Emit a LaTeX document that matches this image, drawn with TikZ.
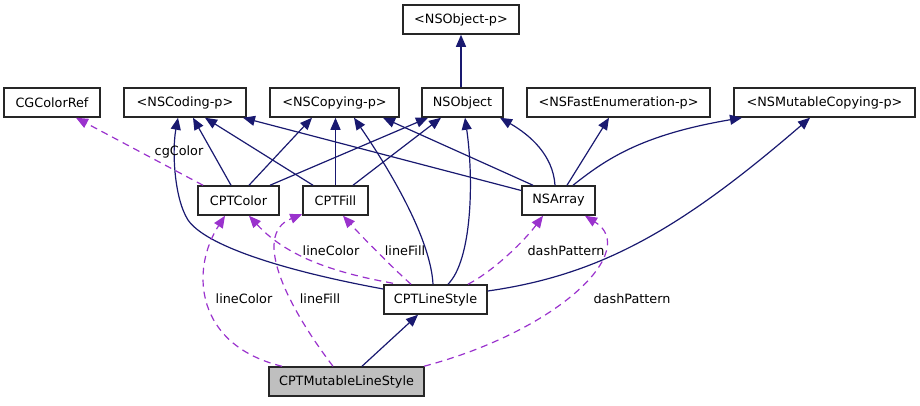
\documentclass[tikz,border=0pt]{standalone}
\usepackage{fontspec}
\setmainfont{DejaVu Sans}
\usetikzlibrary{arrows.meta}
\definecolor{navyc}{HTML}{191970}
\definecolor{purpc}{HTML}{9A32CD}
\definecolor{grayfill}{HTML}{BFBFBF}
\begin{document}
\begin{tikzpicture}[x=1pt,y=-1pt,
  box/.style={draw=black!85,line width=1.5pt,minimum height=29pt,inner sep=0pt,fill=white,font=\fontsize{12.8}{14}\selectfont},
  inh/.style={navyc,line width=1.2pt,-{Triangle[length=12pt,width=10pt]}},
  use/.style={purpc,line width=1.2pt,dash pattern=on 7pt off 5pt,-{Triangle[length=12pt,width=10pt]}},
  lbl/.style={font=\fontsize{12.8}{14}\selectfont,inner sep=1pt}]
\useasboundingbox (0,0) rectangle (920,405);
% nodes
\node[box,minimum width=116pt] (nsobjp) at (461,19.5) {<NSObject-p>};
\node[box,minimum width=96pt] (cgcolor) at (52,102.5) {CGColorRef};
\node[box,minimum width=122pt] (nscoding) at (185,102.5) {<NSCoding-p>};
\node[box,minimum width=129pt] (nscopying) at (334.5,102.5) {<NSCopying-p>};
\node[box,minimum width=81pt] (nsobject) at (462.5,102.5) {NSObject};
\node[box,minimum width=183pt] (nsfast) at (618.5,102.5) {<NSFastEnumeration-p>};
\node[box,minimum width=181pt] (nsmut) at (824.5,102.5) {<NSMutableCopying-p>};
\node[box,minimum width=81pt] (cptcolor) at (238.5,200.5) {CPTColor};
\node[box,minimum width=65pt] (cptfill) at (335.5,200.5) {CPTFill};
\node[box,minimum width=73pt] (nsarray) at (558.5,200.5) {NSArray};
\node[box,minimum width=103pt] (lstyle) at (435.5,299.5) {CPTLineStyle};
\node[box,minimum width=155pt,fill=grayfill] (mls) at (346.5,381.5) {CPTMutableLineStyle};
% inheritance edges
\draw[inh] (nsobject.north -| nsobjp.south) -- (nsobjp.south);
\draw[inh] ([xshift=-7.5pt]cptcolor.north) -- ([xshift=8pt]nscoding.south);
\draw[inh] ([xshift=10.5pt]cptcolor.north) -- ([xshift=-22.5pt]nscopying.south);
\draw[inh] ([xshift=31.5pt]cptcolor.north) -- ([xshift=-34.5pt]nsobject.south);
\draw[inh] ([xshift=-22.5pt]cptfill.north) -- ([xshift=20pt]nscoding.south);
\draw[inh] (cptfill.north) -- (cptfill.north |- nscopying.south);
\draw[inh] ([xshift=17.5pt]cptfill.north) -- ([xshift=-21.5pt]nsobject.south);
\draw[inh] ([yshift=10pt]nsarray.west) -- ([xshift=58pt]nscoding.south);
\draw[inh] ([xshift=-25.5pt]nsarray.north) -- ([xshift=48.5pt]nscopying.south);
\draw[inh] ([xshift=-3.5pt]nsarray.north) .. controls (553,155) and (530,135) .. ([xshift=37.5pt]nsobject.south);
\draw[inh] ([xshift=8.5pt]nsarray.north) -- ([xshift=-9.5pt]nsfast.south);
\draw[inh] ([xshift=14.5pt]nsarray.north) .. controls (605,160) and (640,135) .. ([xshift=-82.5pt]nsmut.south);
\draw[inh] ([yshift=10.5pt]lstyle.west) .. controls (280,270) and (205,245) .. (188,220) .. controls (174,198) and (172,150) .. ([xshift=-7pt]nscoding.south);
\draw[inh] ([xshift=-2.5pt]lstyle.north) .. controls (431,245) and (400,185) .. ([xshift=19.5pt]nscopying.south);
\draw[inh] ([xshift=12.5pt]lstyle.north) .. controls (472,260) and (474,180) .. ([xshift=2.5pt]nsobject.south);
\draw[inh] ([yshift=8.5pt]lstyle.east) .. controls (600,275) and (680,230) .. ([xshift=-14.5pt]nsmut.south);
\draw[inh] ([xshift=15.5pt]mls.north) -- ([xshift=-17.5pt]lstyle.south);
% usage edges
\draw[use] ([xshift=-35.5pt]cptcolor.north) -- ([xshift=24pt]cgcolor.south);
\node[lbl] (l1) at (179,152) {cgColor};
\draw[use] ([xshift=-42.5pt,yshift=1pt]lstyle.north) .. controls (330,272) and (285,255) .. ([xshift=10.5pt]cptcolor.south);
\node[lbl] (l2) at (331,251) {lineColor};
\draw[use] ([xshift=-24.5pt]lstyle.north) .. controls (395,270) and (365,240) .. ([xshift=7.5pt]cptfill.south);
\node[lbl] (l3) at (405,251) {lineFill};
\draw[use] ([xshift=32.5pt]lstyle.north) .. controls (495,270) and (525,240) .. ([xshift=-15.5pt]nsarray.south);
\node[lbl] (l4) at (566,251) {dashPattern};
\draw[use] ([xshift=-64.5pt]mls.north) .. controls (195,345) and (190,270) .. ([xshift=-13.5pt]cptcolor.south);
\node[lbl] (l5) at (244,299) {lineColor};
\draw[use] ([xshift=-13.5pt]mls.north) .. controls (290,310) and (250,235) .. ([yshift=1.5pt]cptfill.south west);
\node[lbl] (l6) at (320,299) {lineFill};
\draw[use] ([xshift=77.5pt]mls.north) .. controls (560,330) and (640,250) .. ([xshift=26.5pt]nsarray.south);
\node[lbl] (l7) at (632,299) {dashPattern};
\end{tikzpicture}
\end{document}
